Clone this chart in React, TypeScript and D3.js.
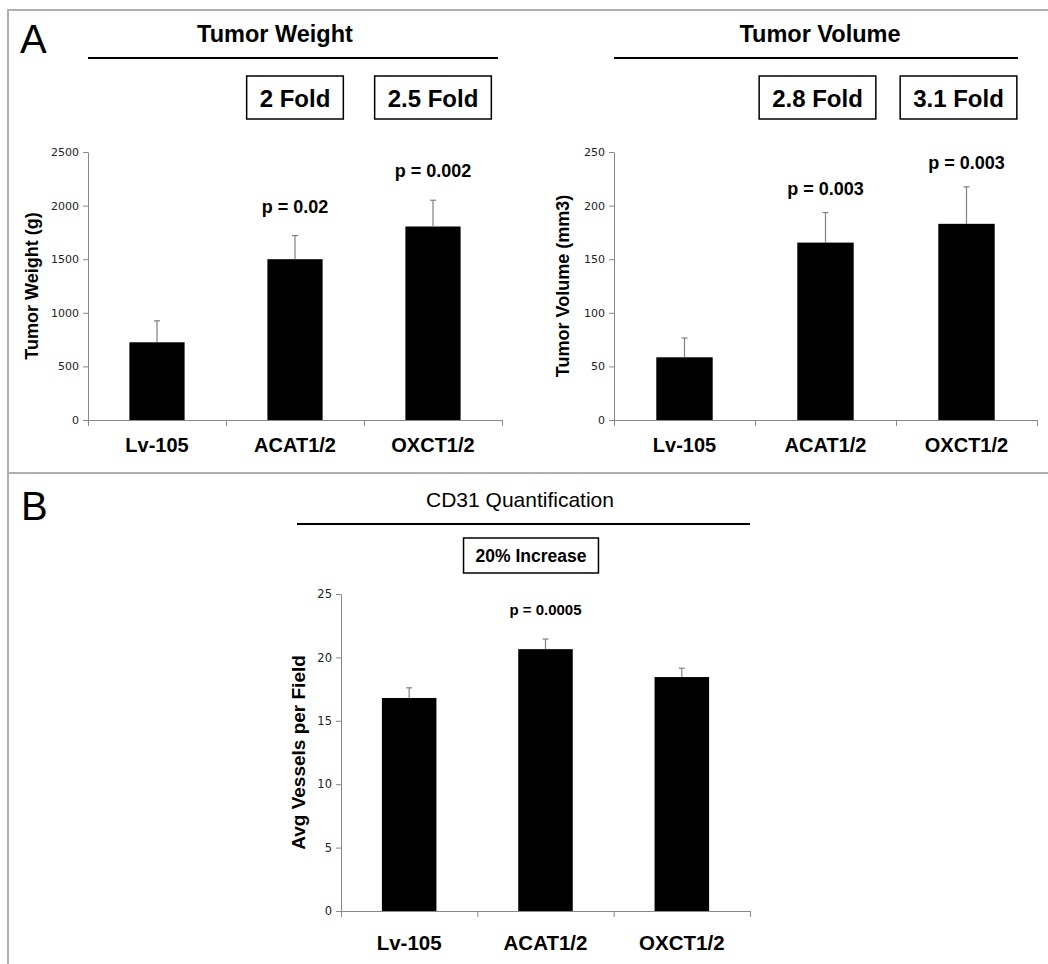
import React, { useEffect, useRef } from 'react';
import * as d3 from 'd3';

// values
const categories = ['Lv-105', 'ACAT1/2', 'OXCT1/2'];

const weightMeans = [725, 1500, 1805];
const weightErrors = [200, 220, 245];
const weightPValues = ['', 'p = 0.02', 'p = 0.002'];
const weightFolds = ['', '2 Fold', '2.5 Fold'];
const weightTicks = [0, 500, 1000, 1500, 2000, 2500];

const volumeMeans = [58.5, 165.5, 183];
const volumeErrors = [18, 28, 34.5];
const volumePValues = ['', 'p = 0.003', 'p = 0.003'];
const volumeFolds = ['', '2.8 Fold', '3.1 Fold'];
const volumeTicks = [0, 50, 100, 150, 200, 250];

const cd31Means = [16.8, 20.65, 18.45];
const cd31Errors = [0.8, 0.8, 0.7];
const cd31PValues = ['', 'p = 0.0005', ''];
const cd31Ticks = [0, 5, 10, 15, 20, 25];

const SANS = 'Liberation Sans, Arial, Helvetica, sans-serif';
const TICKFONT = 'DejaVu Sans, Verdana, sans-serif';
const AXIS = '#888';
const ERR = '#808080';

const drawChart = (svg, cfg) => {
    const g = svg.append('g');
    const x = d3.scaleBand().domain(categories).range([cfg.left, cfg.right]).paddingInner(0.6).paddingOuter(0.3);
    const y = d3.scaleLinear().domain([0, cfg.ticks[cfg.ticks.length - 1]]).range([cfg.bottom, cfg.top]);
    const bw = x.bandwidth();
    const cx = (c) => x(c) + bw / 2;

    // y axis
    const ya = g.append('g').attr('transform', `translate(${cfg.left},0)`)
        .call(d3.axisLeft(y).tickValues(cfg.ticks).tickFormat(d3.format('d')).tickSize(5).tickSizeOuter(0).tickPadding(4));
    ya.select('.domain').attr('stroke', AXIS);
    ya.selectAll('line').attr('stroke', AXIS);
    ya.selectAll('text').attr('font-family', TICKFONT).attr('font-size', cfg.tickSize).attr('fill', '#222');

    // x axis with ticks at band edges
    const edges = d3.scaleLinear().domain([0, categories.length]).range([cfg.left, cfg.right]);
    const xa = g.append('g').attr('transform', `translate(0,${cfg.bottom})`)
        .call(d3.axisBottom(edges).tickValues(d3.range(categories.length + 1)).tickSize(6).tickSizeOuter(0).tickFormat(() => ''));
    xa.select('.domain').attr('stroke', AXIS);
    xa.selectAll('line').attr('stroke', AXIS);

    // bars
    g.selectAll('.bar').data(categories).enter().append('rect')
        .attr('x', d => x(d))
        .attr('y', (d, i) => y(cfg.means[i]))
        .attr('width', bw)
        .attr('height', (d, i) => cfg.bottom - y(cfg.means[i]))
        .attr('fill', '#000');

    // error bars
    categories.forEach((c, i) => {
        const top = y(cfg.means[i] + cfg.errors[i]);
        g.append('line').attr('x1', cx(c)).attr('x2', cx(c)).attr('y1', y(cfg.means[i])).attr('y2', top)
            .attr('stroke', ERR).attr('stroke-width', 1.2);
        g.append('line').attr('x1', cx(c) - 3).attr('x2', cx(c) + 3).attr('y1', top).attr('y2', top)
            .attr('stroke', ERR).attr('stroke-width', 1.2);
        if (cfg.pValues[i]) {
            g.append('text').attr('x', cx(c)).attr('y', top - cfg.pOffset)
                .attr('text-anchor', 'middle').attr('font-family', SANS).attr('font-weight', 'bold')
                .attr('font-size', cfg.pSize).text(cfg.pValues[i]);
        }
    });

    // category labels
    g.selectAll('.xl').data(categories).enter().append('text')
        .attr('x', d => cx(d)).attr('y', cfg.labelY)
        .attr('text-anchor', 'middle').attr('font-family', SANS).attr('font-weight', 'bold')
        .attr('font-size', cfg.labelSize).text(d => d);

    // y title
    g.append('text')
        .attr('transform', `translate(${cfg.yTitleX},${(cfg.top + cfg.bottom) / 2}) rotate(-90)`)
        .attr('text-anchor', 'middle').attr('font-family', SANS).attr('font-weight', 'bold')
        .attr('font-size', cfg.yTitleSize).text(cfg.yTitle);

    // header and rule
    g.append('text').attr('x', cfg.titleX).attr('y', cfg.titleY).attr('text-anchor', 'middle')
        .attr('font-family', SANS).attr('font-weight', cfg.titleWeight).attr('font-size', cfg.titleSize).text(cfg.title);
    g.append('line').attr('x1', cfg.ruleX1).attr('x2', cfg.ruleX2).attr('y1', cfg.ruleY).attr('y2', cfg.ruleY)
        .attr('stroke', '#000').attr('stroke-width', 2);

    // fold boxes
    (cfg.folds || []).forEach((f, i) => {
        if (!f) return;
        const fx = cfg.boxCenters ? cfg.boxCenters[i] : cx(categories[i]) + (cfg.boxShift || 0);
        const t = g.append('text').attr('x', fx).attr('y', cfg.boxTextY).attr('text-anchor', 'middle')
            .attr('font-family', SANS).attr('font-weight', 'bold').attr('font-size', cfg.boxFont).text(f);
        const w = t.node().getComputedTextLength() + cfg.boxPad * 2;
        g.insert('rect', () => t.node()).attr('x', fx - w / 2).attr('y', cfg.boxY1).attr('width', w)
            .attr('height', cfg.boxY2 - cfg.boxY1).attr('fill', '#fff').attr('stroke', '#000').attr('stroke-width', 1.5);
    });
};

const App = () => {
    const ref = useRef();
    useEffect(() => {
        ref.current.innerHTML = '';
        const svg = d3.select(ref.current).append('svg')
            .attr('width', 1048).attr('height', 964)
            .style('position', 'absolute').style('left', '0px').style('top', '0px')
            .style('background', '#fff');

        // frame
        svg.append('line').attr('x1', 8).attr('x2', 1048).attr('y1', 10).attr('y2', 10).attr('stroke', '#b0b0b0').attr('stroke-width', 2);
        svg.append('line').attr('x1', 8).attr('x2', 8).attr('y1', 9).attr('y2', 964).attr('stroke', '#b0b0b0').attr('stroke-width', 2);
        svg.append('line').attr('x1', 8).attr('x2', 1048).attr('y1', 473).attr('y2', 473).attr('stroke', '#b0b0b0').attr('stroke-width', 2);

        svg.append('text').attr('x', 20).attr('y', 53).attr('font-family', SANS).attr('font-size', 40).text('A');
        svg.append('text').attr('x', 21).attr('y', 520).attr('font-family', SANS).attr('font-size', 40).text('B');

        const common = {
            pSize: 18, labelSize: 20, yTitleSize: 18, tickSize: 11,
            titleY: 42, titleSize: 23.5, titleWeight: 'bold', ruleY: 58,
            boxY1: 76, boxY2: 119, boxTextY: 107, boxFont: 24, boxPad: 13,
        };

        drawChart(svg, {
            ...common,
            means: weightMeans, errors: weightErrors, pValues: weightPValues, folds: weightFolds, ticks: weightTicks,
            left: 88, right: 502, top: 152, bottom: 420, labelY: 452, pOffset: 23,
            yTitle: 'Tumor Weight (g)', yTitleX: 38,
            title: 'Tumor Weight', titleX: 275, ruleX1: 88, ruleX2: 498,
        });

        drawChart(svg, {
            ...common,
            means: volumeMeans, errors: volumeErrors, pValues: volumePValues, folds: volumeFolds, ticks: volumeTicks,
            left: 614, right: 1037, top: 152, bottom: 420, labelY: 452, pOffset: 18, boxShift: -8,
            yTitle: 'Tumor Volume (mm3)', yTitleX: 569,
            title: 'Tumor Volume', titleX: 820, ruleX1: 614, ruleX2: 1018,
        });

        drawChart(svg, {
            ...common,
            means: cd31Means, errors: cd31Errors, pValues: cd31PValues, ticks: cd31Ticks,
            folds: ['20% Increase'], boxCenters: [531],
            boxY1: 538, boxY2: 573, boxTextY: 562, boxFont: 17.5, boxPad: 12,
            left: 341, right: 750, top: 594, bottom: 911, labelY: 950, pOffset: 24, pSize: 15, labelSize: 20.5,
            tickSize: 11.5, yTitleSize: 19,
            yTitle: 'Avg Vessels per Field', yTitleX: 305,
            title: 'CD31 Quantification', titleX: 520, titleY: 507, titleSize: 21, titleWeight: 'normal',
            ruleX1: 297, ruleX2: 750, ruleY: 524,
        });
    }, []);

    return (
        <>
        <div ref={ref}></div>
        </>
    );
};

export default App;
